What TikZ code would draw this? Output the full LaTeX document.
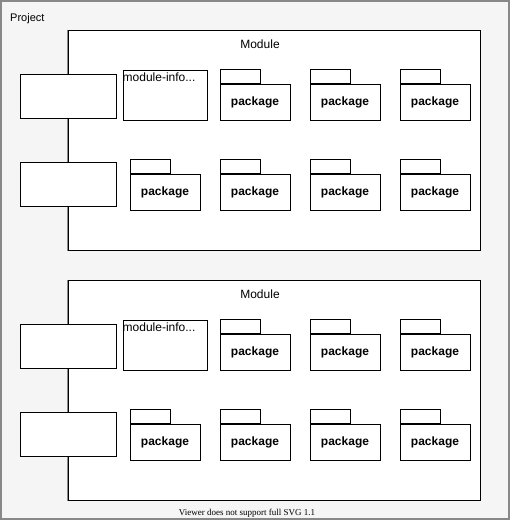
\documentclass[tikz,border=0pt]{standalone}
\usepackage{fontspec}
\setmainfont{Liberation Sans}
\newfontfamily\viewerfont{Liberation Serif}
\usetikzlibrary{positioning}
\definecolor{projfill}{HTML}{F5F5F5}
\definecolor{projline}{HTML}{888888}
\tikzset{
  project/.style={draw=projline, fill=projfill, line width=1.5pt, inner sep=0pt},
  box/.style={draw, fill=white, line width=1pt, inner sep=0pt},
  pkgbody/.style={box, minimum width=70, minimum height=36, font=\fontsize{12}{14}\selectfont\bfseries},
  pkgtab/.style={box, minimum width=40, minimum height=14, anchor=south west},
  lbl/.style={inner sep=0pt, font=\fontsize{12}{14}\selectfont}
}
\begin{document}
\begin{tikzpicture}[x=1pt,y=-1pt]
\useasboundingbox (0,0) rectangle (512,522);
\node[project, minimum width=508, minimum height=518] (project) at (255,260) {};
\node[lbl, anchor=west, font=\fontsize{11}{13}\selectfont] (projlabel) at (10,19) {Project};
\foreach \m/\dy in {1/0, 2/250} {
 \node[box, minimum width=412, minimum height=220] (mod\m) at (274,140+\dy) {};
 \draw[projline, line width=1.2pt] (mod\m.north west) -- (mod\m.south west);
 \node[lbl] (modlabel\m) at (260,44+\dy) {Module};
 \node[box, minimum width=96, minimum height=44] (ifa\m) at (68,96+\dy) {};
 \node[box, minimum width=96, minimum height=44] (ifb\m) at (68,184+\dy) {};
 \node[box, minimum width=84, minimum height=50] (info\m) at (165,95+\dy) {};
 \node[lbl, anchor=north west] (infolabel\m) at ([yshift=-3.5pt]info\m.north west) {module-info...};
 \foreach \px [count=\c] in {255,345,435} {
  \node[pkgbody] (pkg\m a\c) at (\px,102+\dy) {package};
  \node[pkgtab] (tab\m a\c) at (pkg\m a\c.north west) {};
 }
 \foreach \px [count=\c] in {165,255,345,435} {
  \node[pkgbody] (pkg\m b\c) at (\px,192+\dy) {package};
  \node[pkgtab] (tab\m b\c) at (pkg\m b\c.north west) {};
 }
}
\node[inner sep=0pt, font=\viewerfont\fontsize{9}{11}\selectfont] (viewer) at (247,513) {Viewer does not support full SVG 1.1};
\end{tikzpicture}
\end{document}
